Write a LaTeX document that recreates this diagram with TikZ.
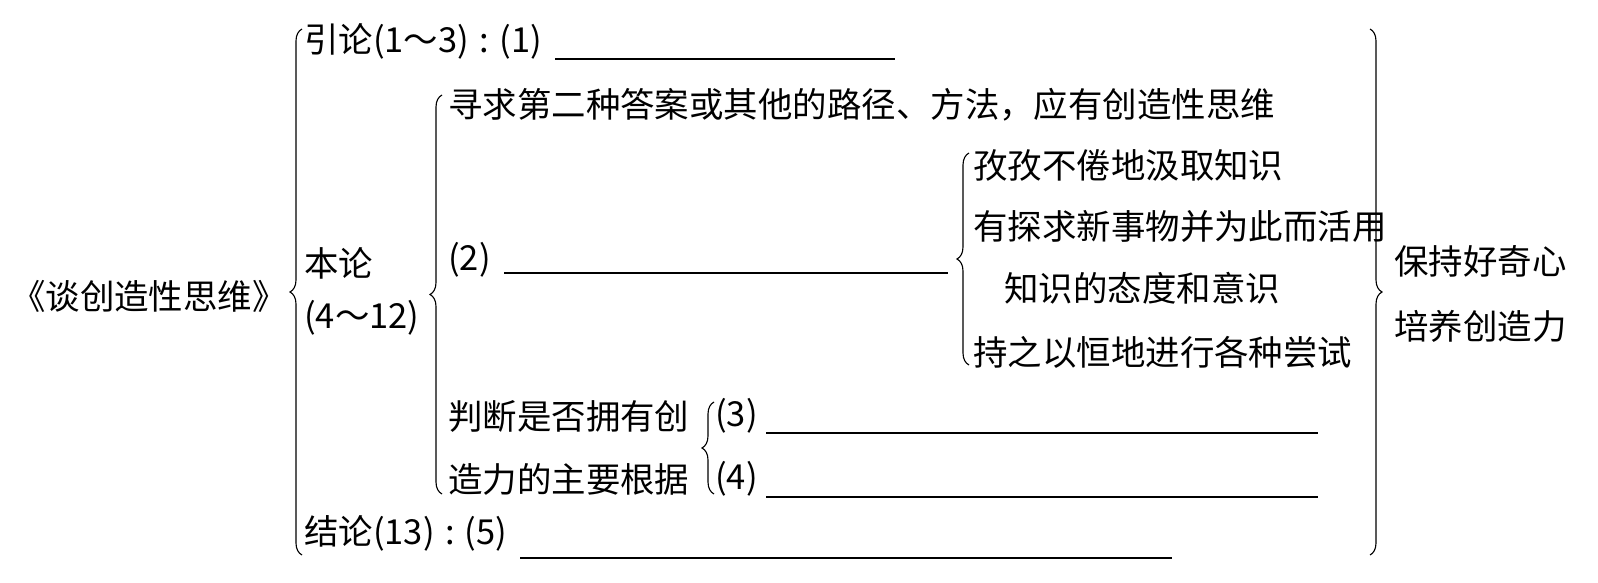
\documentclass[tikz,border=0pt]{standalone}
\usepackage{fontspec}
\usetikzlibrary{decorations.pathreplacing}
\newfontfamily\cjk{Noto Sans CJK SC}
\newcommand{\gapcolon}{\hspace{0.3em}:\hspace{0.3em}}
\begin{document}
\begin{tikzpicture}[x=0.025cm,y=-0.025cm,font=\cjk\fontsize{24.5}{28}\selectfont]
  \tikzset{txt/.style={anchor=west,inner sep=0pt},
    blank/.style={line width=0.9pt},
    lcurl/.style={decorate,line width=0.8pt,decoration={brace,amplitude=0.3cm}}}
  \useasboundingbox (0,0) rectangle (1598,583);
  % left column
  \node[anchor=east,inner sep=0pt] (title) at (287,296) {《谈创造性思维》};
  \node[txt] (intro) at (304,41) {引论(1～3)\gapcolon(1)};
  \node[txt] (body) at (304,263) {本论};
  \node[txt] (range) at (304,318) {(4～12)};
  \node[txt] (concl) at (304,533) {结论(13)\gapcolon(5)};
  % body branch
  \node[txt] (seek) at (448,105) {寻求第二种答案或其他的路径、方法，应有创造性思维};
  \node[txt] (two) at (448,260) {(2)};
  \node[txt] (eager) at (973,165) {孜孜不倦地汲取知识};
  \node[txt] (explore) at (973,226) {有探求新事物并为此而活用};
  \node[txt] (exploretail) at (1004,288) {知识的态度和意识};
  \node[txt] (persist) at (973,352) {持之以恒地进行各种尝试};
  \node[txt] (judgeA) at (448,416) {判断是否拥有创};
  \node[txt] (judgeB) at (448,479) {造力的主要根据};
  \node[txt] (three) at (715,416) {(3)};
  \node[txt] (four) at (715,479) {(4)};
  % right column
  \node[txt] (curious) at (1394,261) {保持好奇心};
  \node[txt] (create) at (1394,326) {培养创造力};
  % blanks
  \draw[blank] (555,59) -- (895,59);
  \draw[blank] (504,273) -- (948,273);
  \draw[blank] (766,433) -- (1318,433);
  \draw[blank] (766,497) -- (1318,497);
  \draw[blank] (520,558) -- (1172,558);
  % braces
  \coordinate (mainTop) at (302,29);
  \coordinate (mainBot) at (302,555);
  \coordinate (bodyTop) at (442,95);
  \coordinate (bodyBot) at (442,494);
  \coordinate (twoTop) at (969,153);
  \coordinate (twoBot) at (969,365);
  \coordinate (judgeTop) at (714,402);
  \coordinate (judgeBot) at (714,494);
  \coordinate (sumTop) at (1370,29);
  \coordinate (sumBot) at (1370,555);
  \draw[lcurl] (mainBot) -- (mainTop);
  \draw[lcurl] (bodyBot) -- (bodyTop);
  \draw[lcurl] (twoBot) -- (twoTop);
  \draw[lcurl] (judgeBot) -- (judgeTop);
  \draw[lcurl] (sumTop) -- (sumBot);
\end{tikzpicture}
\end{document}
